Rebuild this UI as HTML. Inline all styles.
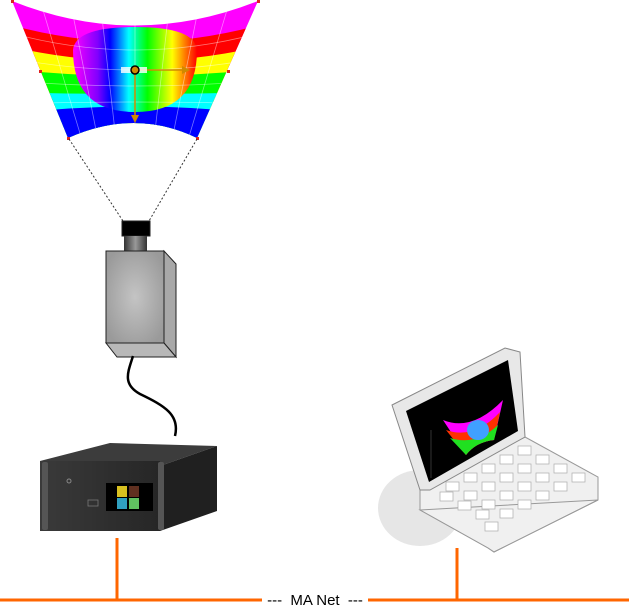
<!DOCTYPE html>
<html><head><meta charset="utf-8"><style>
html,body{margin:0;padding:0;background:#fff;}
svg{display:block;}
</style></head><body>
<svg width="629" height="610" viewBox="0 0 629 610" xmlns="http://www.w3.org/2000/svg">
<defs>
<clipPath id="warp"><path d="M12,1 Q135,50 258,1 L197,138 Q135,108 68,138 Z"/></clipPath>
<linearGradient id="rb" x1="0" x2="1" y1="0" y2="0">
<stop offset="0" stop-color="#ff00ff"/><stop offset="0.2" stop-color="#8000ff"/><stop offset="0.3" stop-color="#0000ff"/>
<stop offset="0.45" stop-color="#00ffff"/><stop offset="0.6" stop-color="#00ff00"/><stop offset="0.8" stop-color="#ffff00"/><stop offset="1" stop-color="#ff0000"/></linearGradient>
<radialGradient id="grey" cx="0.5" cy="0.5" r="0.6"><stop offset="0" stop-color="#c4c4c4"/><stop offset="1" stop-color="#9a9a9a"/></radialGradient>
<linearGradient id="neck" x1="0" x2="1"><stop offset="0" stop-color="#333"/><stop offset="0.5" stop-color="#999"/><stop offset="1" stop-color="#333"/></linearGradient>
<linearGradient id="srv" x1="0" x2="1"><stop offset="0" stop-color="#3a3a3a"/><stop offset="1" stop-color="#262626"/></linearGradient>
</defs>

<g clip-path="url(#warp)">
<rect x="0" y="0" width="270" height="140" fill="#ff00ff"/>
<path d="M0,22 Q135,62 270,22 L270,140 L0,140Z" fill="#ff0000"/>
<path d="M0,44 Q135,78 270,44 L270,140 L0,140Z" fill="#ffff00"/>
<path d="M0,68 Q135,84 270,68 L270,140 L0,140Z" fill="#00ff00"/>
<path d="M0,92 Q135,96 270,92 L270,140 L0,140Z" fill="#00ffff"/>
<path d="M0,115 Q135,98 270,115 L270,140 L0,140Z" fill="#0000ff"/>
<path d="M73,50 Q75,27 135,27 Q195,27 197,50 Q197,112 135,112 Q73,112 73,50Z" fill="url(#rb)"/>
<g stroke="#fff" stroke-opacity="0.45" stroke-width="0.8" fill="none">
<path d="M40,0 L82,140 M70,0 L98,140 M100,0 L116,140 M135,0 L135,140 M170,0 L154,140 M200,0 L172,140 M230,0 L188,140"/>
<path d="M0,30 Q135,70 270,30 M0,56 Q135,84 270,56 M0,80 Q135,92 270,80 M0,104 Q135,100 270,104"/>
</g>
</g>
<line x1="135" y1="70" x2="185" y2="70" stroke="#d08a00" stroke-width="1.5"/>
<polygon points="190,70 182,66 182,74" fill="#d08a00"/>
<line x1="135" y1="70" x2="135" y2="118" stroke="#d08a00" stroke-width="1.5"/>
<polygon points="135,123 131,115 139,115" fill="#d08a00"/>
<rect x="121" y="67" width="26" height="6" fill="#fff" opacity="0.8"/>
<circle cx="135" cy="70" r="4" fill="#d08a00" stroke="#000" stroke-width="1.5"/>
<g fill="#e02020"><rect x="11" y="0" width="3" height="3"/><rect x="257" y="0" width="3" height="3"/><rect x="39" y="70" width="3" height="3"/><rect x="227" y="70" width="3" height="3"/><rect x="67" y="137" width="3" height="3"/><rect x="196" y="137" width="3" height="3"/></g>

<g stroke="#333" stroke-dasharray="2,2" stroke-width="1">
<line x1="69" y1="139" x2="123" y2="221"/><line x1="197" y1="139" x2="149" y2="221"/>
</g>

<g stroke="#222" stroke-width="1">
<rect x="122" y="221" width="28" height="15" fill="#000"/>
<rect x="124" y="236" width="23" height="15" fill="url(#neck)" stroke="none"/>
<rect x="106" y="251" width="58" height="92" fill="url(#grey)"/>
<polygon points="164,251 176,264 176,357 164,343" fill="#a8a8a8"/>
<polygon points="106,343 164,343 176,357 117,357" fill="#b8b8b8"/>
</g>
<path d="M133,356 C128,372 122,384 140,394 C165,406 180,415 175,436" fill="none" stroke="#000" stroke-width="2.5"/>

<g>
<polygon points="40,461 110,443 217,446 160,466" fill="#3c3c3c"/>
<polygon points="160,466 217,446 217,511 160,531" fill="#202020"/>
<rect x="40" y="461" width="120" height="70" fill="url(#srv)"/>
<rect x="42" y="462" width="6" height="68" rx="2" fill="#555"/>
<rect x="158" y="462" width="6" height="68" rx="2" fill="#555"/>
<rect x="106" y="483" width="47" height="28" fill="#000"/>
<rect x="117" y="486" width="10" height="11" fill="#d8c020"/><rect x="129" y="486" width="10" height="11" fill="#603020"/>
<rect x="117" y="498" width="10" height="11" fill="#30a0c0"/><rect x="129" y="498" width="10" height="11" fill="#60c060"/>
<circle cx="69" cy="481" r="2" fill="none" stroke="#888"/>
<rect x="88" y="500" width="10" height="6" fill="none" stroke="#777" stroke-width="0.8"/>
</g>

<g>
<ellipse cx="420" cy="508" rx="42" ry="38" fill="#e6e6e6"/>
<polygon points="420,490 525,437 598,477 598,500 494,552 488,548 420,510" fill="#f0f0f0" stroke="#999" stroke-width="1"/>
<polygon points="420,510 488,548 494,552 598,500" fill="none" stroke="#999"/>
<g fill="#fff" stroke="#aaa" stroke-width="0.7">
<rect x="518" y="446" width="13" height="9"/><rect x="536" y="455" width="13" height="9"/><rect x="554" y="464" width="13" height="9"/><rect x="572" y="473" width="13" height="9"/>
<rect x="500" y="455" width="13" height="9"/><rect x="518" y="464" width="13" height="9"/><rect x="536" y="473" width="13" height="9"/><rect x="554" y="482" width="13" height="9"/>
<rect x="482" y="464" width="13" height="9"/><rect x="500" y="473" width="13" height="9"/><rect x="518" y="482" width="13" height="9"/><rect x="536" y="491" width="13" height="9"/>
<rect x="464" y="473" width="13" height="9"/><rect x="482" y="482" width="13" height="9"/><rect x="500" y="491" width="13" height="9"/><rect x="518" y="500" width="13" height="9"/>
<rect x="446" y="482" width="13" height="9"/><rect x="464" y="491" width="13" height="9"/><rect x="482" y="500" width="13" height="9"/><rect x="500" y="509" width="13" height="9"/>
<rect x="440" y="492" width="13" height="9"/><rect x="458" y="501" width="13" height="9"/><rect x="476" y="510" width="13" height="9"/><rect x="485" y="522" width="13" height="9"/>
</g>
<polygon points="392,405 505,348 520,352 525,437 430,490 420,490" fill="#e8e8e8" stroke="#888" stroke-width="1"/>
<polygon points="406,411 508,360 518,431 429,482" fill="#000"/>
<path d="M443,420 Q472,432 503,400 L494,440 Q476,442 466,455 Z" fill="#ff00ff"/>
<path d="M446,430 Q474,440 500,412 L494,440 Q476,442 466,455 Z" fill="#ff3000"/>
<path d="M450,438 Q476,446 498,425 L494,440 Q476,442 466,455 Z" fill="#20e020"/>
<ellipse cx="478" cy="430" rx="11" ry="10" fill="#40a0ff"/>
<line x1="431" y1="430" x2="431" y2="478" stroke="#555" stroke-width="0.6"/>
</g>

<g stroke="#ff6600" stroke-width="3">
<line x1="0" y1="600" x2="262" y2="600"/><line x1="368" y1="600" x2="629" y2="600"/>
<line x1="117" y1="538" x2="117" y2="600"/>
<line x1="457" y1="548" x2="457" y2="600"/>
</g>
<text x="315" y="605" text-anchor="middle" font-family="Liberation Sans, sans-serif" font-size="15" fill="#000" xml:space="preserve">---  MA Net  ---</text>
</svg>
</body></html>
